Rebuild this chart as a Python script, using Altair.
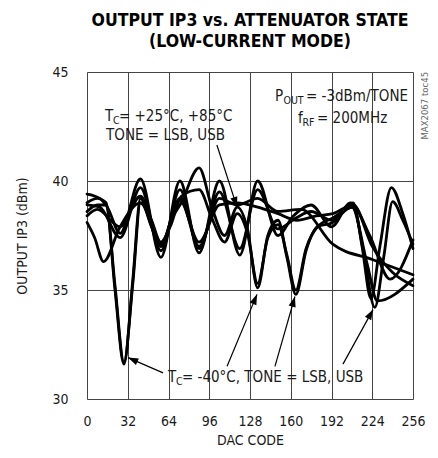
import math
import altair as alt
import pandas as pd

FONT = "Liberation Sans Narrow, DejaVu Sans Condensed, Roboto, sans-serif"
INK = "#1a1a1a"

# ---------------- data ----------------
x_ticks = [0, 32, 64, 96, 128, 160, 192, 224, 256]
y_ticks = [30, 35, 40, 45]

# TC = -40C, LSB
m40_lsb_code = [0, 8, 15, 22, 29, 36, 42, 50, 58, 66, 74, 88, 98, 108, 118, 126, 134, 142, 150, 157, 164, 172, 181, 193, 209, 216, 223, 230, 239, 248, 256]
m40_lsb_ip3 = [38.6, 38.9, 38.9, 35.0, 31.6, 35.5, 39.2, 38.0, 37.0, 38.2, 39.0, 40.6, 38.8, 37.5, 38.8, 37.8, 35.1, 37.5, 38.2, 36.5, 34.8, 36.8, 37.9, 38.1, 39.0, 37.0, 34.6, 37.0, 39.7, 38.5, 36.9]
# TC = -40C, USB
m40_usb_code = [0, 8, 15, 22, 29, 36, 42, 50, 58, 66, 74, 88, 98, 108, 118, 126, 134, 142, 150, 157, 164, 172, 181, 193, 209, 217, 226, 233, 240, 248, 256]
m40_usb_ip3 = [39.0, 39.2, 39.0, 35.2, 31.7, 35.3, 39.0, 38.3, 37.2, 38.0, 39.3, 39.6, 38.3, 37.2, 38.5, 37.6, 35.3, 37.4, 38.0, 36.6, 35.0, 36.9, 37.9, 38.3, 38.8, 36.8, 34.2, 36.5, 39.05, 38.2, 37.1]
# TC = +25C, LSB
p25_lsb_code = [0, 10, 16, 26, 42, 58, 73, 88, 104, 120, 134, 150, 162, 176, 192, 207, 222, 238, 256]
p25_lsb_ip3 = [39.4, 39.2, 38.8, 37.6, 40.1, 36.5, 40.0, 36.7, 40.0, 36.6, 40.0, 37.5, 38.4, 38.9, 37.9, 39.0, 37.5, 35.5, 37.3]
# TC = +25C, USB
p25_usb_code = [0, 10, 26, 42, 58, 73, 88, 104, 120, 134, 150, 164, 176, 192, 208, 220, 228, 256]
p25_usb_ip3 = [38.9, 38.8, 37.4, 39.7, 36.8, 39.6, 36.9, 39.5, 36.9, 39.6, 37.8, 38.3, 38.6, 38.2, 38.8, 36.2, 34.5, 35.5]
# TC = +85C, LSB
p85_lsb_code = [0, 8, 26, 42, 58, 73, 88, 104, 118, 134, 150, 168, 193, 224, 256]
p85_lsb_ip3 = [38.4, 38.7, 37.9, 39.3, 37.0, 39.2, 37.0, 39.2, 38.9, 39.2, 38.6, 38.7, 37.1, 36.4, 35.7]
# TC = +85C, USB
p85_usb_code = [0, 6, 13, 26, 42, 58, 73, 88, 104, 118, 134, 150, 165, 180, 193, 209, 224, 240, 256]
p85_usb_ip3 = [38.1, 37.4, 36.3, 37.9, 39.0, 37.1, 39.1, 37.2, 38.9, 39.0, 38.8, 38.5, 38.2, 38.4, 38.5, 38.9, 37.0, 35.8, 35.2]

series_names = ["-40C LSB", "-40C USB", "+25C LSB", "+25C USB", "+85C LSB", "+85C USB"]
series_codes = [m40_lsb_code, m40_usb_code, p25_lsb_code, p25_usb_code, p85_lsb_code, p85_usb_code]
series_vals = [m40_lsb_ip3, m40_usb_ip3, p25_lsb_ip3, p25_usb_ip3, p85_lsb_ip3, p85_usb_ip3]

# annotation arrows: tail (code, dB) -> head (code, dB)
arrow_tail_code = [102, 59.7, 110, 147.6, 201]
arrow_tail_ip3 = [41.65, 31.2, 31.5, 31.5, 31.6]
arrow_head_code = [117.8, 32.2, 133.5, 163.3, 224.6]
arrow_head_ip3 = [38.8, 31.9, 34.8, 34.7, 34.1]

# annotation text pieces: (main, subscript, rest) anchored at (code, dB)
label_main = ["T", "P", "f", "T"]
label_sub = ["C", "OUT", "RF", "C"]
label_rest = [" = +25°C, +85°C", " = -3dBm/TONE", " = 200MHz", " = -40°C, TONE = LSB, USB"]
label_code = [14.1, 147.6, 165.7, 63.6]
label_ip3 = [43.0, 43.9, 42.9, 31.0]
label_sub_dx = [8.0, 8.5, 4.5, 8.0]
label_rest_dx = [14.0, 31.0, 19.0, 14.0]

line2_text = ["TONE = LSB, USB"]
line2_code = [15.0]
line2_ip3 = [42.1]

side_text = ["MAX2067 toc45"]
side_code = [265.5]
side_ip3 = [41.9]

# ---------------- layout ----------------
W, H = 326, 327
KX = W / 256.0
KY = H / 15.0

rows = []
for name, cs, vs in zip(series_names, series_codes, series_vals):
    for c, v in zip(cs, vs):
        rows.append({"series": name, "code": c, "ip3": v})
df = pd.DataFrame(rows)

arr = pd.DataFrame({"tx": arrow_tail_code, "ty": arrow_tail_ip3,
                    "hx": arrow_head_code, "hy": arrow_head_ip3})
angles = []
for tx, ty, hx, hy in zip(arrow_tail_code, arrow_tail_ip3, arrow_head_code, arrow_head_ip3):
    dxp = (hx - tx) * KX
    dyp = -(hy - ty) * KY
    angles.append(math.degrees(math.atan2(dxp, -dyp)) % 360)
arr["ang"] = angles

main_rows, sub_rows = [], []
for m, s, r, c, v, sdx, rdx in zip(label_main, label_sub, label_rest, label_code, label_ip3, label_sub_dx, label_rest_dx):
    main_rows.append({"code": c, "ip3": v, "t": m})
    main_rows.append({"code": c + rdx / KX, "ip3": v, "t": r})
    sub_rows.append({"code": c + sdx / KX, "ip3": v - 5.0 / KY, "t": s})
for t, c, v in zip(line2_text, line2_code, line2_ip3):
    main_rows.append({"code": c, "ip3": v, "t": t})
main_df = pd.DataFrame(main_rows)
sub_df = pd.DataFrame(sub_rows)
side_df = pd.DataFrame({"code": side_code, "ip3": side_ip3, "t": side_text})

xs = alt.Scale(domain=[0, 256], nice=False, zero=False)
ys = alt.Scale(domain=[30, 45], nice=False, zero=False)

x_axis = alt.Axis(values=x_ticks, ticks=False, domain=False, grid=True, gridColor="#444", gridWidth=1,
                  labelFont=FONT, labelFontSize=14, labelColor=INK, labelPadding=15, labelFlush=False,
                  title="DAC CODE", titleFont=FONT, titleFontSize=14, titleFontWeight="normal",
                  titleColor=INK, titlePadding=5)
y_axis = alt.Axis(values=y_ticks, ticks=False, domain=False, grid=True, gridColor="#444", gridWidth=1,
                  labelFont=FONT, labelFontSize=14, labelColor=INK, labelPadding=19, labelFlush=False,
                  title="OUTPUT IP3 (dBm)", titleFont=FONT, titleFontSize=14, titleFontWeight="normal",
                  titleColor=INK, titlePadding=22)

lines = alt.Chart(df).mark_line(color="black", strokeWidth=2.8, interpolate="monotone",
                                strokeJoin="round", strokeCap="round").encode(
    x=alt.X("code:Q", scale=xs, axis=x_axis),
    y=alt.Y("ip3:Q", scale=ys, axis=y_axis),
    detail="series:N",
)

rules = alt.Chart(arr).mark_rule(color="black", strokeWidth=1.2).encode(
    x=alt.X("tx:Q", scale=xs), y=alt.Y("ty:Q", scale=ys),
    x2="hx:Q", y2="hy:Q",
)

heads = alt.Chart(arr).mark_point(shape="M0,0L-0.35,1L0.35,1Z", size=420, filled=True,
                                  color="black", opacity=1, strokeWidth=0).encode(
    x=alt.X("hx:Q", scale=xs), y=alt.Y("hy:Q", scale=ys),
    angle=alt.Angle("ang:Q", scale=None),
)

main_txt = alt.Chart(main_df).mark_text(font=FONT, fontSize=15, align="left", baseline="middle",
                                        color=INK).encode(
    x=alt.X("code:Q", scale=xs), y=alt.Y("ip3:Q", scale=ys), text="t:N",
)
sub_txt = alt.Chart(sub_df).mark_text(font=FONT, fontSize=10.5, align="left", baseline="middle",
                                      color=INK).encode(
    x=alt.X("code:Q", scale=xs), y=alt.Y("ip3:Q", scale=ys), text="t:N",
)
side_txt = alt.Chart(side_df).mark_text(font=FONT, fontSize=9.5, align="left", baseline="middle",
                                        angle=270, color="#666").encode(
    x=alt.X("code:Q", scale=xs), y=alt.Y("ip3:Q", scale=ys), text="t:N",
)

chart = alt.layer(lines, rules, heads, main_txt, sub_txt, side_txt).properties(
    width=W, height=H,
    autosize=alt.AutoSizeParams(type="none"),
    padding={"left": 79, "top": 64, "right": 17, "bottom": 51},
    title=alt.Title(["OUTPUT IP3 vs. ATTENUATOR STATE", "(LOW-CURRENT MODE)"],
                    font=FONT, fontSize=17.5, fontWeight="bold", color="black",
                    lineHeight=21, anchor="middle", offset=15),
).configure_view(stroke="black", strokeWidth=2.5).configure(background="white")

chart.save("out.html", embed_options={"renderer": "svg", "actions": False})
